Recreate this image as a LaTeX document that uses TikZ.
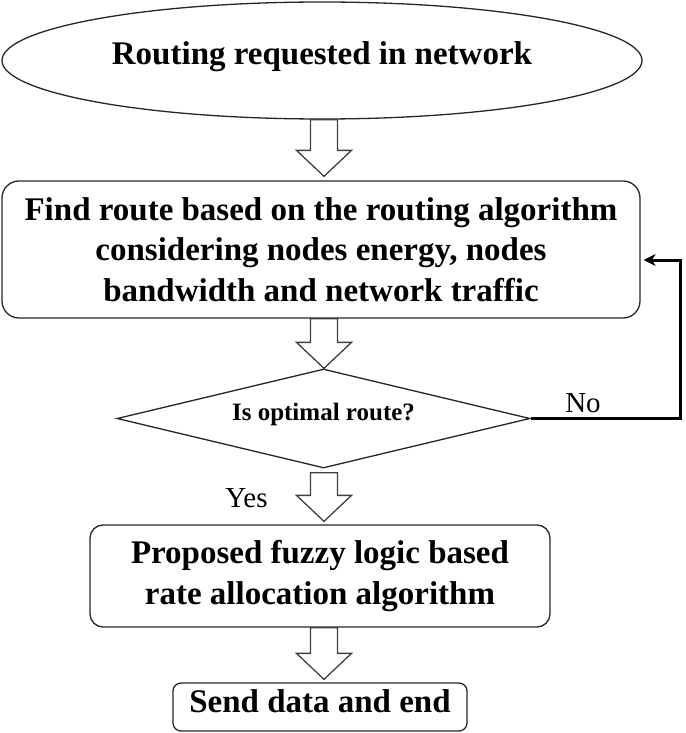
\documentclass[tikz,border=0pt]{standalone}
\usepackage{fontspec}
\setmainfont{Liberation Serif}
\usetikzlibrary{shapes.geometric,calc,arrows.meta}
\newcommand\blockarrow[2]{%
  \draw[blockline] let \p1=(#1), \p2=(#2) in
   (\x1-13.5pt,\y1) -- (\x1-13.5pt,\y2+26pt) -- (\x1-27.5pt,\y2+26pt) -- (\x1,\y2)
   -- (\x1+27.5pt,\y2+26pt) -- (\x1+13.5pt,\y2+26pt) -- (\x1+13.5pt,\y1) -- cycle;}
\begin{document}
\begin{tikzpicture}[x=1pt,y=-1pt,
  shapeline/.style={draw=black!85, line width=1.3pt},
  blockline/.style={draw=black!75, line width=1.3pt, line join=miter},
  bigtext/.style={font=\fontsize{33}{40.5}\selectfont\bfseries, align=center},
  smalllabel/.style={font=\fontsize{29}{34}\selectfont, inner sep=0pt},
  feedback/.style={draw=black, line width=3pt, line join=miter,
    -{Stealth[length=12pt,width=12pt]}}]
\useasboundingbox (0,0) rectangle (685,733);
\coordinate (axis) at (324,0);
\node[ellipse, shapeline, minimum width=640pt, minimum height=117pt, inner sep=0pt,
  bigtext, text height=22pt, text depth=13pt] (start) at (322,60.5)
  {Routing requested in network};
\node[rectangle, rounded corners=17pt, shapeline, minimum width=638pt, minimum height=137pt,
  inner sep=0pt, bigtext] (find) at (321,249.5)
  {Find route based on the routing algorithm\\considering nodes energy, nodes\\bandwidth and network traffic};
\node[diamond, shapeline, aspect=4.17, minimum width=413pt, minimum height=99pt, inner sep=0pt,
  font=\fontsize{25}{30}\selectfont\bfseries, text height=17pt, text depth=14pt]
  (check) at (323.5,418.5) {Is optimal route?};
\node[rectangle, rounded corners=13pt, shapeline, minimum width=460pt, minimum height=102pt,
  inner sep=0pt, bigtext] (alloc) at (320,576)
  {Proposed fuzzy logic based\\rate allocation algorithm};
\node[rectangle, rounded corners=8pt, shapeline, minimum width=294pt, minimum height=48pt,
  inner sep=0pt, bigtext, text height=22pt, text depth=12pt] (send) at (320,707)
  {Send data and end};
\blockarrow{start.south -| axis}{$(find.north -| axis)+(0,-4)$}
\blockarrow{find.south -| axis}{check.north -| axis}
\blockarrow{$(check.south -| axis)+(0,4)$}{$(alloc.north -| axis)+(0,-3)$}
\blockarrow{alloc.south -| axis}{$(send.north -| axis)+(0,-3)$}
\coordinate (fbk) at (680,260);
\coordinate (fbin) at ($(find.east |- fbk)+(3,0)$);
\draw[feedback] (check.east) -| (fbk) -- (fbin);
\node[smalllabel, anchor=base] (nolabel) at (583,412) {No};
\node[smalllabel, anchor=base] (yeslabel) at (246.5,507) {Yes};
\end{tikzpicture}
\end{document}
